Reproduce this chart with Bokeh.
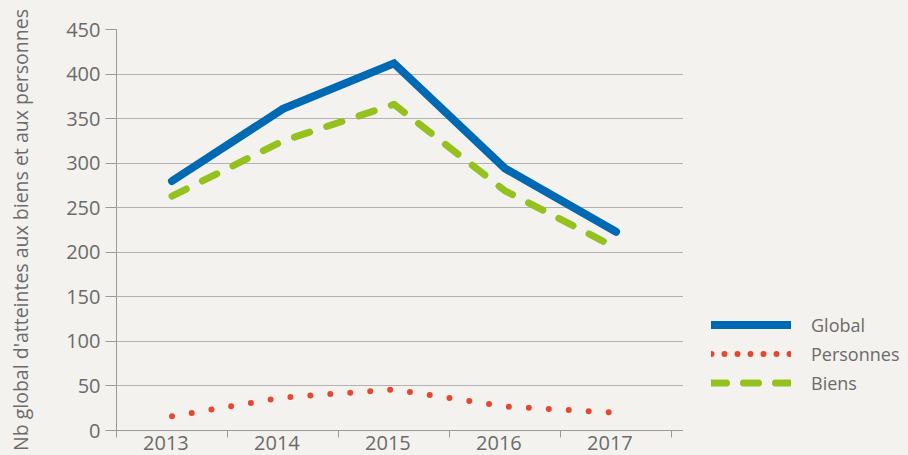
from bokeh.plotting import figure
from bokeh.layouts import row
from bokeh.models import (Range1d, FixedTicker, Legend, LegendItem, ColumnDataSource,
                          CustomJSTickFormatter)
from bokeh.embed import file_html
from bokeh.resources import INLINE

# ---- data ----
years = ["2013", "2014", "2015", "2016", "2017"]
global_vals = [280, 361, 412, 294, 223]
personnes_vals = [16, 37, 46, 27, 20]
biens_vals = [263, 325, 366, 269, 205]
y_ticks = [0, 50, 100, 150, 200, 250, 300, 350, 400, 450]
series_names = ["Global", "Personnes", "Biens"]
y_label = "Nb global d'atteintes aux biens et aux personnes"

BG = "#f3f2ee"
TXT = "#6b6b6b"
AXIS = "#9a9a9a"
GRID = "#b2b2b2"
BLUE = "#0069b4"
RED = "#e8472f"
GREEN = "#95c11f"
FONT = "Open Sans"

xpos = [i + 0.5 for i in range(len(years))]
boundaries = list(range(len(years) + 1))
label_shift = 0.055  # year labels sit slightly left of the category centres

p = figure(width=683, height=455, output_backend="svg", toolbar_location=None,
           x_range=Range1d(0, len(years) + 0.108), y_range=Range1d(0, 450),
           min_border_left=116, min_border_right=0, min_border_top=29,
           min_border_bottom=25)
p.background_fill_color = BG
p.border_fill_color = BG
p.outline_line_color = None

# y axis
ya = p.yaxis[0]
ya.ticker = FixedTicker(ticks=y_ticks)
ya.axis_line_color = AXIS
ya.major_tick_line_color = AXIS
ya.major_tick_out = 11
ya.major_tick_in = 0
ya.minor_tick_line_color = None
ya.major_label_standoff = 5
ya.major_label_text_font = FONT
ya.major_label_text_font_size = "20px"
ya.major_label_text_color = TXT
ya.axis_label = y_label
ya.axis_label_text_font = FONT
ya.axis_label_text_font_size = "19.5px"
ya.axis_label_text_font_style = "normal"
ya.axis_label_text_color = TXT
ya.axis_label_standoff = 29

# x axis: minor ticks at category boundaries, year labels at the centres
xa = p.xaxis[0]
xa.ticker = FixedTicker(ticks=[x - label_shift for x in xpos], minor_ticks=boundaries)
xa.formatter = CustomJSTickFormatter(args=dict(labels=years), code="return labels[index]")
xa.axis_line_color = AXIS
xa.major_tick_line_color = None
xa.major_tick_out = 0
xa.major_tick_in = 0
xa.minor_tick_line_color = AXIS
xa.minor_tick_out = 7
xa.minor_tick_in = 0
xa.major_label_standoff = -2
xa.major_label_text_font = FONT
xa.major_label_text_font_size = "20px"
xa.major_label_text_color = TXT

p.ygrid.ticker = FixedTicker(ticks=y_ticks)
p.ygrid.grid_line_color = GRID
p.ygrid.grid_line_width = 1
p.xgrid.grid_line_color = None

src = ColumnDataSource(dict(x=xpos, g=global_vals, pe=personnes_vals, b=biens_vals))

p.line("x", "pe", source=src, line_color=RED, line_width=6, line_dash="0 20",
       line_cap="round")
p.line("x", "b", source=src, line_color=GREEN, line_width=7, line_dash="16 18",
       line_cap="round", line_join="round")
p.line("x", "g", source=src, line_color=BLUE, line_width=8, line_cap="round",
       line_join="miter")

# ---- legend panel (separate plot to the right) ----
lf = figure(width=225, height=455, output_backend="svg", toolbar_location=None,
            x_range=Range1d(0, 225), y_range=Range1d(0, 455),
            min_border_left=0, min_border_right=0, min_border_top=0, min_border_bottom=0)
lf.axis.visible = False
lf.grid.visible = False
lf.background_fill_color = BG
lf.border_fill_color = BG
lf.outline_line_color = None

nan = float("nan")
lg = lf.line([nan], [nan], line_color=BLUE, line_width=8, line_cap="round")
lp = lf.line([nan], [nan], line_color=RED, line_width=6, line_dash="0 13", line_cap="round")
lb = lf.line([nan], [nan], line_color=GREEN, line_width=7, line_dash="15 17", line_cap="round")

legend = Legend(items=[LegendItem(label=series_names[0], renderers=[lg]),
                       LegendItem(label=series_names[1], renderers=[lp]),
                       LegendItem(label=series_names[2], renderers=[lb])],
                location=(28, 33))
legend.glyph_width = 80
legend.glyph_height = 29
legend.label_height = 29
legend.label_standoff = 20
legend.spacing = 0
legend.padding = 0
legend.margin = 0
legend.border_line_color = None
legend.background_fill_alpha = 0
legend.label_text_font = FONT
legend.label_text_font_size = "18px"
legend.label_text_color = TXT
lf.add_layout(legend)

layout = row(p, lf, spacing=0)

html = file_html(layout, INLINE)
html = html.replace("<head>", "<head><style>html,body{background-color:%s;}</style>" % BG, 1)
open("out.html", "w").write(html)
